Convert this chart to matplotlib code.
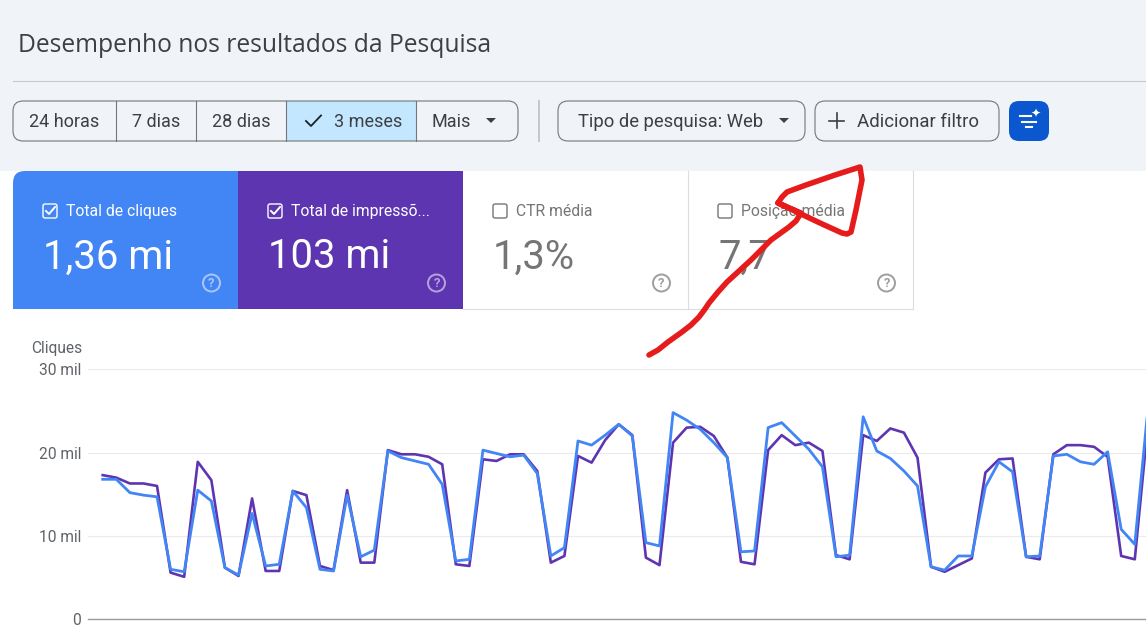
import matplotlib
matplotlib.use('Agg')
import matplotlib.pyplot as plt
from matplotlib.patches import FancyBboxPatch, Rectangle, Circle, Polygon

plt.rcParams['font.family'] = ['Roboto', 'DejaVu Sans']

# values in thousands
cliques = [16.8, 16.8, 15.2, 14.9, 14.7, 6.0, 5.7, 15.5, 14.2, 6.2, 5.3, 12.7, 6.4, 6.6, 15.4, 13.4,
           6.0, 5.8, 14.9, 7.5, 8.3, 20.2, 19.4, 19.0, 18.6, 16.2, 7.0, 7.2, 20.3, 19.9, 19.5, 19.7,
           17.5, 7.6, 8.6, 21.4, 20.9, 22.1, 23.4, 22.0, 9.2, 8.8, 24.8, 23.9, 22.8, 21.2, 19.4, 8.1,
           8.2, 23.0, 23.6, 22.0, 20.4, 18.3, 7.5, 7.7, 24.3, 20.2, 19.3, 17.8, 16.0, 6.3, 5.9, 7.6,
           7.6, 15.9, 18.9, 17.7, 7.5, 7.6, 19.6, 19.8, 18.9, 18.6, 20.1, 10.8, 9.0, 25.8]
impressoes = [17.3, 17.0, 16.3, 16.3, 16.0, 5.6, 5.1, 18.9, 16.7, 6.2, 5.2, 14.5, 5.8, 5.8, 15.4, 14.9,
              6.4, 5.9, 15.5, 6.8, 6.8, 20.3, 19.8, 19.8, 19.5, 18.6, 6.6, 6.4, 19.2, 19.0, 19.8, 19.8,
              17.8, 6.8, 7.6, 19.6, 18.8, 21.5, 23.4, 22.1, 7.4, 6.5, 21.2, 23.0, 23.1, 22.0, 19.4, 6.9,
              6.6, 20.3, 22.1, 20.9, 21.2, 20.2, 7.7, 7.2, 22.1, 21.4, 22.9, 22.4, 19.4, 6.3, 5.7, 6.5,
              7.3, 17.6, 19.2, 19.3, 7.5, 7.2, 19.8, 20.9, 20.9, 20.7, 19.5, 7.6, 7.2, 23.9]
yticks = [0, 10, 20, 30]
ytick_labels = ['0', '10 mil', '20 mil', '30 mil']

periodos = ['24 horas', '7 dias', '28 dias', '3 meses', 'Mais']
cards = ['Total de cliques', 'Total de impressõ...', 'CTR média', 'Posição média']
card_values = ['1,36 mi', '103 mi', '1,3%', '7,7']

W, H = 1146, 632
BG = '#f0f4f9'
BLUE = '#4285f4'
PURPLE = '#5e35b1'
BORDER = '#747775'
DARK = '#3c4043'
GREY = '#757575'

fig = plt.figure(figsize=(W / 100, H / 100), dpi=100, facecolor='white')

# ui layer, coordinates are screen pixels
ui = fig.add_axes([0, 0, 1, 1])
ui.set_xlim(0, W)
ui.set_ylim(H, 0)
ui.axis('off')


def fs(px):
    return px * 0.72


def rbox(x0, y0, x1, y1, r, fc='none', ec='none', lw=1.0, z=2):
    ui.add_patch(FancyBboxPatch((x0, y0), x1 - x0, y1 - y0, boxstyle=f'round,pad=0,rounding_size={r}',
                                fc=fc, ec=ec, lw=lw, zorder=z))


def dropdown(x, y, color=DARK):
    ui.add_patch(Polygon([(x - 5, y - 2), (x + 5, y - 2), (x, y + 3)], fc=color, ec='none', zorder=4))


def check(x, y, color, lw=1.4):
    ui.plot([x - 4, x - 1, x + 5], [y, y + 3, y - 4], color=color, lw=lw, zorder=5)


ui.add_patch(Rectangle((0, 0), W, 171, fc=BG, ec='none', zorder=0))
ui.text(18, 46, 'Desempenho nos resultados da Pesquisa', fontsize=fs(24.6), color=DARK, va='center',
        family='Open Sans', fontweight='medium')
ui.plot([13, W], [80.5, 80.5], color='#c7c9cc', lw=0.8, zorder=1)

# period selector
ui.add_patch(Rectangle((286, 101), 130, 40, fc='#c2e7ff', ec='none', zorder=1))
rbox(13, 101, 518, 141, 10, ec=BORDER, lw=0.8)
for x in [116, 196, 286, 416]:
    ui.plot([x, x], [101, 141], color=BORDER, lw=0.8, zorder=3)
label_x = [64.5, 156, 241.5, 368, 451]
for lab, x in zip(periodos, label_x):
    ui.text(x, 122, lab, fontsize=fs(18), color=DARK, ha='center', va='center', zorder=4)
ui.plot([306, 311, 321], [121, 126, 115.5], color='#1f1f1f', lw=1.3, zorder=5)
dropdown(491, 120)
ui.plot([539, 539], [101, 141], color='#c4c7c5', lw=1.4, zorder=1)

# filters
rbox(558, 101, 805, 141, 10, ec=BORDER, lw=0.8)
ui.text(578, 122, 'Tipo de pesquisa: Web', fontsize=fs(18.4), color=DARK, va='center')
dropdown(784, 120)
rbox(815, 101, 999, 141, 10, ec=BORDER, lw=0.8)
ui.plot([829, 844], [120.5, 120.5], color=DARK, lw=1.2)
ui.plot([836.5, 836.5], [113, 128], color=DARK, lw=1.2)
ui.text(857, 122, 'Adicionar filtro', fontsize=fs(18.6), color=DARK, va='center')
rbox(1009, 101, 1049, 141, 10, fc='#0b57d0')
for x0, x1, y in [(1020, 1031, 116), (1022, 1036, 122), (1026, 1032, 127)]:
    ui.plot([x0, x1], [y, y], color='white', lw=1.5, zorder=5)
ui.text(1036, 113, '✦', fontsize=fs(12), color='white', ha='center', va='center', family='DejaVu Sans', zorder=5)

# metric cards
card_x = [13, 238, 463, 688]
card_fc = [BLUE, PURPLE, 'white', 'white']
for i, (lab, val) in enumerate(zip(cards, card_values)):
    x = card_x[i]
    active = i < 2
    fg = 'white' if active else GREY
    if i == 0:
        rbox(x, 171, x + 60, 240, 12, fc=BLUE, z=1)
        ui.add_patch(Rectangle((x + 14, 171), 211, 138, fc=BLUE, ec='none', zorder=1))
        ui.add_patch(Rectangle((x, 185), 225, 124, fc=BLUE, ec='none', zorder=1))
    elif active:
        ui.add_patch(Rectangle((x, 171), 225, 138, fc=card_fc[i], ec='none', zorder=1))
    else:
        ui.plot([x - 0.5, x + 224.5, x + 224.5], [308.5, 308.5, 171], color='#dadce0', lw=0.8, zorder=1)
    rbox(x + 30, 204, x + 44, 218, 2, ec='white' if active else GREY, lw=1.0, z=3)
    if active:
        check(x + 37, 211, 'white')
    ui.text(x + 53, 211.5, lab, fontsize=fs(15.8), color=fg, va='center', zorder=3)
    ui.text(x + 30, 257, val, fontsize=fs(40), color=fg, va='center', zorder=3)
    help_c = '#ffffff' if active else '#9e9e9e'
    ui.add_patch(Circle((x + 198.5, 283), 8.5, fc='none', ec=help_c, lw=1.4, alpha=0.55 if active else 1, zorder=3))
    ui.text(x + 198.5, 283.5, '?', fontsize=fs(13), color=help_c, ha='center', va='center', fontweight='bold',
            alpha=0.55 if active else 1, zorder=3)

ui.text(82, 348.5, 'Cliques', fontsize=fs(15.5), color='#5f6368', ha='right', va='center')

# chart, axes box placed so 0..30 mil lands on the gridlines of the screenshot
x_step = 13.58
x_first = 102.7
left, right = 88, W
top, bottom = 369.3, 619.3
ax = fig.add_axes([left / W, 1 - bottom / H, (right - left) / W, (bottom - top) / H], zorder=2)
ax.patch.set_alpha(0)
idx = range(len(cliques))
ax.plot(idx, impressoes, color=PURPLE, lw=1.9)
ax.plot(idx, cliques, color=BLUE, lw=2.0)
ax.set_xlim((left - x_first) / x_step, (right - x_first) / x_step)
ax.set_ylim(0, 30)
ax.set_yticks(yticks)
ax.set_yticklabels(ytick_labels, fontsize=fs(15.5), color='#5f6368')
ax.set_xticks([])
ax.tick_params(axis='y', length=0, pad=5)
ax.grid(axis='y', color='#ebebeb', lw=0.8)
ax.set_axisbelow(True)
for s in ['top', 'left', 'right']:
    ax.spines[s].set_visible(False)
ax.spines['bottom'].set_color('#9a9a9a')
ax.spines['bottom'].set_linewidth(1.0)

# red hand drawn arrow on top of the screenshot
arrow_x = [649, 658, 668, 682, 691, 699, 705, 709, 718, 727, 739, 751, 771, 789, 796, 801,
           778, 782, 787, 806, 835, 860, 862, 859, 856, 851, 847, 842, 820, 799, 778]
arrow_y = [355, 350, 342, 332, 325, 317, 309, 303, 292, 282, 271, 260, 240, 227, 221, 213,
           203, 197, 192, 185, 175, 167, 180, 195, 210, 232, 234, 233, 223, 213, 203]
ui.plot(arrow_x, arrow_y, color='#e61c1c', lw=4.0, solid_joinstyle='round', solid_capstyle='round', zorder=10)

fig.savefig('out.png', dpi=100)
